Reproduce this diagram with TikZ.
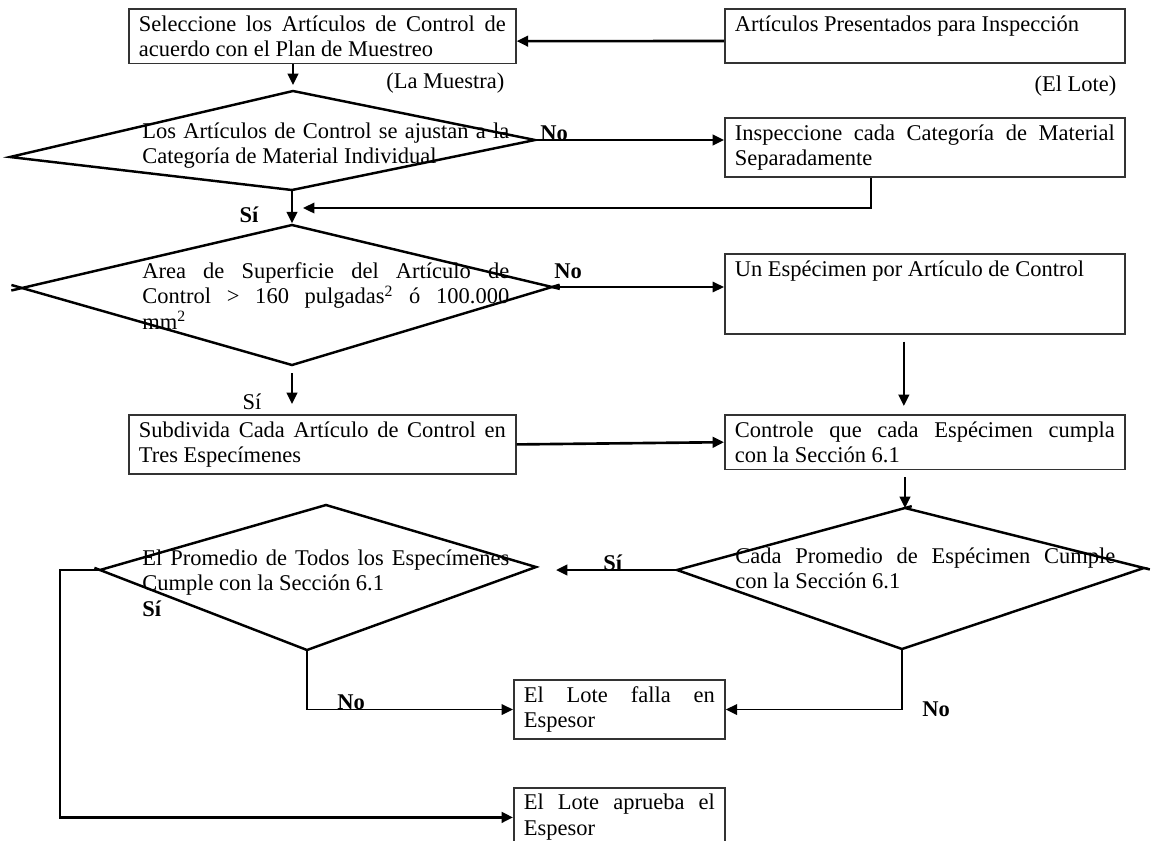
\documentclass[tikz,border=0pt]{standalone}
\usepackage{fontspec}
\setmainfont{Liberation Serif}
\usetikzlibrary{arrows.meta,positioning,calc}
\newcommand{\flujo}{\fontsize{12.8}{14.6}\selectfont}
\tikzset{
  caja/.style={
    draw=black!80,
    line width=1pt,
    anchor=north west,
    inner xsep=0.2cm,
    inner ysep=0.13cm,
    align=justify,
    font=\flujo
  },
  cajaizq/.style={caja, text width=7.34cm},
  cajader/.style={caja, text width=7.6cm},
  cajabaja/.style={caja, text width=3.82cm},
  textorombo/.style={anchor=base west, inner sep=0pt, align=justify, font=\flujo},
  rombo/.style={draw=black, line width=1.4pt, line join=miter},
  etiqueta/.style={inner sep=0pt, font=\flujo\bfseries},
  flecha/.style={-{Triangle[length=6.5pt,width=6pt]}, line width=1.5pt, draw=black},
  flechafina/.style={-{Triangle[length=6.5pt,width=6pt]}, line width=0.8pt, draw=black}
}

\begin{document}
\begin{tikzpicture}[x=0.02cm, y=-0.02cm]
\useasboundingbox (0,0) rectangle (1153,840);

% cajas
\node[cajaizq] (sel) at (128,8) {Seleccione los Artículos de Control de\linebreak acuerdo con el Plan de Muestreo};
\node[cajader] (lote) at (724,8) {Artículos Presentados para Inspección\\\mbox{}};
\node[cajader] (insp) at (724,117) {Inspeccione cada Categoría de Material\linebreak Separadamente};
\node[cajader] (uno) at (724,253) {Un Espécimen por Artículo de Control\\\mbox{}\\\mbox{}};
\node[cajaizq] (subd) at (128,414) {Subdivida Cada Artículo de Control en\linebreak Tres Especímenes};
\node[cajader] (ctrl) at (724,414) {Controle que cada Espécimen cumpla\linebreak con la Sección 6.1};
\node[cajabaja] (falla) at (513,679) {El Lote falla en\linebreak Espesor};
\node[cajabaja] (aprueba) at (513,787) {El Lote aprueba el\linebreak Espesor};

\node[anchor=north east, inner sep=0pt, font=\flujo] (muestra) at ([xshift=-0.24cm, yshift=-0.16cm]sel.south east) {(La Muestra)};
\node[anchor=north east, inner sep=0pt, font=\flujo] (ellote) at ([xshift=-0.18cm, yshift=-0.22cm]lote.south east) {(El Lote)};

% rombos
\coordinate (ajuste-n) at (293,91);
\coordinate (ajuste-e) at (535,140);
\coordinate (ajuste-s) at (292,190);
\coordinate (ajuste-w) at (10,157);
\draw[rombo] (ajuste-n) -- (ajuste-e) -- (ajuste-s) -- (ajuste-w) -- cycle;
\node[textorombo, text width=7.34cm] (ajuste) at (142,138) {Los Artículos de Control se ajustan a la\linebreak Categoría de Material Individual};

\coordinate (area-n) at (292,225);
\coordinate (area-e) at (552,287);
\coordinate (area-s) at (292,365);
\coordinate (area-w) at (22,288);
\draw[rombo] (area-n) -- (area-e) -- (area-s) -- (area-w) -- cycle;
\draw[rombo] (area-w) -- ($(area-w)!-0.22cm!(area-n)$) (area-w) -- ($(area-w)!-0.22cm!(area-s)$);
\draw[rombo] (area-e) -- ($(area-e)!-0.16cm!(area-n)$) (area-e) -- ($(area-e)!-0.16cm!(area-s)$);
\node[textorombo, text width=7.34cm] (area) at (142,278) {Area de Superficie del Artículo de\linebreak Control > 160 pulgadas\textsuperscript{2} ó 100.000\linebreak mm\textsuperscript{2}};

\coordinate (prom-n) at (326,505);
\coordinate (prom-e) at (536,567);
\coordinate (prom-s) at (307,650);
\coordinate (prom-w) at (100,570);
\draw[rombo] (prom-n) -- (prom-e) -- (prom-s) -- (prom-w) -- cycle;
\draw[rombo] (prom-w) -- ($(prom-w)!-0.12cm!(prom-s)$);
\node[textorombo, text width=7.34cm] (prom) at (142,565) {El Promedio de Todos los Especímenes\linebreak Cumple con la Sección 6.1\\\textbf{Sí}};

\coordinate (cada-n) at (905,508);
\coordinate (cada-e) at (1144,568);
\coordinate (cada-s) at (902,649);
\coordinate (cada-w) at (677,570);
\draw[rombo] (cada-n) -- (cada-e) -- (cada-s) -- (cada-w) -- cycle;
\draw[rombo] (cada-n) -- ($(cada-n)!-0.14cm!(cada-w)$);
\draw[rombo] (cada-e) -- ($(cada-e)!-0.12cm!(cada-n)$);
\node[textorombo, text width=7.6cm] (cada) at (735,563) {Cada Promedio de Espécimen Cumple\linebreak con la Sección 6.1};

% conectores
\draw[flecha] ([yshift=-0.1cm]lote.west) -- ([yshift=-0.1cm]sel.east);
\draw[flecha, shorten >=0.12cm] (ajuste-n |- sel.south) -- (ajuste-n);

\draw[flecha] (ajuste-e) -- (ajuste-e -| insp.west);
\node[etiqueta, anchor=base west] (no1) at ([xshift=0.1cm]ajuste-e) {No};

\coordinate (ret) at (303,208);
\draw[flechafina, line width=1.1pt] ([xshift=-1.08cm]insp.south) |- (ret);

\draw[flecha, shorten >=1pt] (ajuste-s) -- (area-n);
\node[etiqueta] (si1) at (249,215) {Sí};

\draw[flechafina] (area-e) -- (area-e -| uno.west);
\node[etiqueta, anchor=south west] (no2) at ([xshift=0.04cm, yshift=0.16cm]area-e) {No};

\draw[flecha, shorten <=0.16cm, shorten >=0.2cm] (area-s) -- (area-s |- subd.north);
\node[inner sep=0pt, font=\flujo] (si2) at (252,402) {Sí};

\draw[flecha] (subd.east) -- (ctrl.west);
\draw[flecha, shorten <=0.14cm, shorten >=0.16cm] ([xshift=-0.42cm]uno.south) -- ([xshift=-0.42cm]ctrl.north);
\draw[flecha, shorten <=0.14cm] (cada-n |- ctrl.south) -- (cada-n);

\draw[flecha, shorten >=0.4cm] (cada-w) -- (cada-w -| prom-e);
\node[etiqueta, anchor=base west] (si3) at ([xshift=-1.48cm]cada-w) {Sí};

\draw[flecha] (prom-w) -- ++(-40,0) |- (aprueba.west);

\coordinate (esq-prom) at (prom-s |- falla.west);
\coordinate (esq-cada) at (cada-s |- falla.east);
\draw[flecha, line width=1.1pt] (prom-s) |- (falla.west);
\node[etiqueta, anchor=base west] (no3) at ([xshift=0.6cm]esq-prom) {No};
\draw[flecha, line width=1.1pt] (cada-s) |- (falla.east);
\node[etiqueta, anchor=west] (no4) at ([xshift=0.4cm]esq-cada) {No};
\end{tikzpicture}
\end{document}
